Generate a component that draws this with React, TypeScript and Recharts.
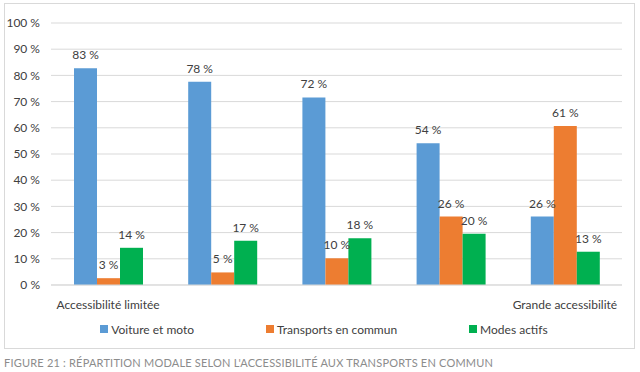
import React from 'react';
import { BarChart, Bar, XAxis, YAxis, CartesianGrid, Legend, LabelList } from 'recharts';

const categories = ['c1', 'c2', 'c3', 'c4', 'c5'];
const categoryLabels = ['Accessibilité limitée', '', '', '', 'Grande accessibilité'];
const voiture = [82.7, 77.6, 71.6, 54.1, 26.1];
const transports = [2.6, 4.8, 10.2, 26.1, 60.7];
const modes = [14.2, 16.9, 17.8, 19.6, 12.7];
const yTicks = [0, 10, 20, 30, 40, 50, 60, 70, 80, 90, 100];

const seriesNames = ['Voiture et moto', 'Transports en commun', 'Modes actifs'];
const colors = ['#5B9BD5', '#ED7D31', '#00B050'];

const data = categories.map((c, i) => ({
  cat: c,
  v: voiture[i],
  t: transports[i],
  m: modes[i],
}));

const FONT = 'Lato, "Open Sans", sans-serif';

const XTick = (props: any) => {
  const { x, y, payload } = props;
  const idx = categories.indexOf(payload.value);
  return (
    <text x={x} y={y + 16} textAnchor="middle" fontSize={12} fill="#404040" fontFamily={FONT}>
      {categoryLabels[idx]}
    </text>
  );
};

const BarLabel = (props: any) => {
  const { x, y, width, value } = props;
  return (
    <text x={Number(x) + Number(width) / 2} y={Number(y) - 9} textAnchor="middle" fontSize={12} fill="#404040" fontFamily={FONT}>
      {`${Math.round(Number(value))} %`}
    </text>
  );
};

const LegendContent = () => (
  <div style={{ display: 'flex', justifyContent: 'center', fontFamily: FONT, fontSize: 12, color: '#404040', height: 20, alignItems: 'center', paddingLeft: 26 }}>
    {seriesNames.map((n, i) => (
      <div key={n} style={{ display: 'flex', alignItems: 'center', marginLeft: i === 0 ? 0 : 72 }}>
        <span style={{ display: 'inline-block', width: 8, height: 8, background: colors[i], marginRight: 3 }} />
        <span>{n}</span>
      </div>
    ))}
  </div>
);

export default function App() {
  return (
    <div style={{ position: 'absolute', left: 0, top: 0, width: 640, height: 372, background: '#fff' }}>
      <div style={{ position: 'absolute', left: 4, top: 3, width: 629, height: 344, border: '1px solid #d9d9d9' }} />
      <div style={{ position: 'absolute', left: 0, top: 0 }}>
        <BarChart width={640} height={350} data={data} margin={{ top: 23, right: 18, left: 0, bottom: 11 }} barGap={0} barSize={23}>
          <CartesianGrid vertical={false} stroke="#d9d9d9" />
          <XAxis dataKey="cat" axisLine={{ stroke: '#d9d9d9' }} tickLine={false} tick={<XTick />} height={34} interval={0} />
          <YAxis
            domain={[0, 100]}
            ticks={yTicks}
            tickFormatter={(v: number) => `${v} %`}
            axisLine={false}
            tickLine={false}
            width={51}
            tick={{ fontSize: 12, fill: '#404040', fontFamily: FONT }}
            tickMargin={5}
          />
          <Legend verticalAlign="bottom" height={20} content={<LegendContent />} />
          <Bar dataKey="v" name={seriesNames[0]} fill={colors[0]} isAnimationActive={false}>
            <LabelList dataKey="v" content={<BarLabel />} />
          </Bar>
          <Bar dataKey="t" name={seriesNames[1]} fill={colors[1]} isAnimationActive={false}>
            <LabelList dataKey="t" content={<BarLabel />} />
          </Bar>
          <Bar dataKey="m" name={seriesNames[2]} fill={colors[2]} isAnimationActive={false}>
            <LabelList dataKey="m" content={<BarLabel />} />
          </Bar>
        </BarChart>
      </div>
      <div style={{ position: 'absolute', left: 4, top: 356, fontFamily: FONT, fontSize: 11, color: '#8c8c8c', letterSpacing: 0.2, whiteSpace: 'nowrap' }}>
        FIGURE 21 : RÉPARTITION MODALE SELON L'ACCESSIBILITÉ AUX TRANSPORTS EN COMMUN
      </div>
    </div>
  );
}
